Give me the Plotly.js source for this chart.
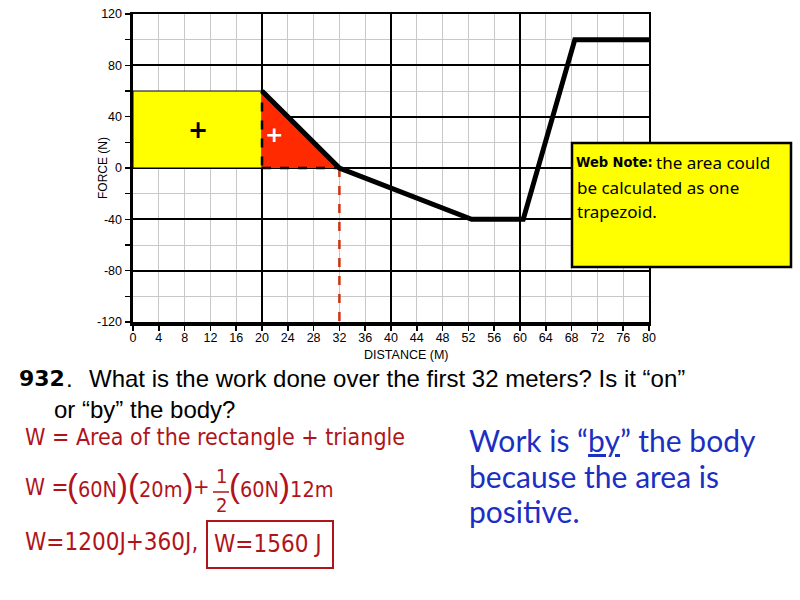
<!DOCTYPE html>
<html>
<head>
<meta charset="utf-8">
<script src="https://cdn.plot.ly/plotly-3.0.1.min.js"></script>
<style>html,body{margin:0;padding:0;background:#fff;}#chart{width:800px;height:600px;}</style>
</head>
<body>
<div id="chart"></div>
<script>
// ---- data ----
const distance = [20, 32, 52.5, 60.5, 68.5, 80];
const force = [60, 0, -40, -40, 100, 100];
const rectX = [0, 20, 20, 0, 0];
const rectY = [0, 0, 60, 60, 0];
const triX = [20, 32, 20, 20];
const triY = [0, 0, 60, 0];
const markX = [32, 32];
const markY = [0, -120];
const xTicks = [0,4,8,12,16,20,24,28,32,36,40,44,48,52,56,60,64,68,72,76,80];
const yTicks = [-120,-80,-40,0,40,80,120];

// ---- layout helpers ----
const L = 133, R = 649, TOP = 14, BOT = 322;
const W = R - L, H = BOT - TOP;
function px(x, y) { return {x: (x - L) / W, y: (BOT - y) / H}; }
function T(x, y, text, size, color, family, extra) {
  const p = px(x, y);
  return Object.assign({xref:'paper', yref:'paper', x:p.x, y:p.y, xanchor:'left', yanchor:'middle',
    text:text, showarrow:false, borderpad:0, borderwidth:0,
    font:{size:size, color:color, family:family}}, extra || {});
}
const RED = '#b0141a', BLUE = '#1b2fc2';
const AF = '"Liberation Sans", Arial, sans-serif';
const QF = '"Liberation Sans", Arial, sans-serif';
const RF = '"DejaVu Sans Condensed", "DejaVu Sans", sans-serif';
const BF = 'Lato, "Open Sans", sans-serif';
const NF = '"Noto Sans", "DejaVu Sans", sans-serif';
const P = s => '<span style="font-family:Liberation Sans;font-size:33px">' + s + '</span>';

const traces = [
  {x: rectX, y: rectY, type:'scatter', mode:'lines', fill:'toself', fillcolor:'#ffff00',
   line:{color:'#000', width:1}, hoverinfo:'skip'},
  {x: triX, y: triY, type:'scatter', mode:'lines', fill:'toself', fillcolor:'#ff2a00',
   line:{color:'#000', width:2.5, dash:'dash'}, hoverinfo:'skip'},
  {x: markX, y: markY, type:'scatter', mode:'lines',
   line:{color:'#cc3311', width:2.5, dash:'dash'}, hoverinfo:'skip'},
  {x: distance, y: force, type:'scatter', mode:'lines',
   line:{color:'#000', width:5}, hoverinfo:'skip'},
  {x: [], y: [], xaxis:'x2', yaxis:'y2', type:'scatter', mode:'lines', hoverinfo:'skip'}
];

const tickFont = {family:AF, size:12.5, color:'#000'};

const annotations = [
  // axis titles
  Object.assign(T(103, 168, 'FORCE (N)', 12, '#000', AF), {xanchor:'center', textangle:-90}),
  Object.assign(T(406, 355, 'DISTANCE (M)', 12.5, '#000', AF), {xanchor:'center'}),
  // plus signs inside areas
  {x:10, y:30, xref:'x', yref:'y', text:'<b>+</b>', showarrow:false, font:{size:24, color:'#000', family:'DejaVu Sans'}},
  {x:21.8, y:26, xref:'x', yref:'y', text:'<b>+</b>', showarrow:false, font:{size:22, color:'#fff', family:'DejaVu Sans'}},
  // web note
  T(576, 162, '<b>Web Note:</b>', 14.5, '#000', RF),
  T(656, 162, 'the area could', 17, '#000', NF),
  T(577, 187, 'be calculated as one', 17, '#000', NF),
  T(577, 211, 'trapezoid.', 17, '#000', NF),
  // question
  T(19, 378, '<b>932</b>', 22, '#000', '"DejaVu Sans", sans-serif'),
  T(66, 378, '.', 24, '#000', QF),
  T(89, 378, 'What is the work done over the first 32 meters? Is it “on”', 24, '#000', QF),
  T(54, 410, 'or “by” the body?', 24, '#000', QF),
  // red solution
  T(25, 437, 'W = Area of the rectangle + triangle', 23, RED, RF),
  T(25, 487, 'W =', 22.5, RED, RF),
  T(67, 485, P('(') + '60N' + P(')(') + '20m' + P(')'), 21.5, RED, RF),
  T(193, 487, '+', 22, RED, RF),
  Object.assign(T(221, 476, '1', 20, RED, RF), {xanchor:'center'}),
  Object.assign(T(221, 505, '2', 20, RED, RF), {xanchor:'center'}),
  T(229, 485, P('(') + '60N' + P(')') + '12m', 21.5, RED, RF),
  T(25, 542, 'W=1200J+360J,', 24, RED, RF),
  T(214, 544, 'W=1560 J', 24, RED, RF)
].concat([
  // blue conclusion
  T(469, 440, 'Work is “<u>by</u>” the body', 30, BLUE, BF),
  T(469, 476, 'because the area is', 30, BLUE, BF),
  T(469, 511, 'positive.', 30, BLUE, BF)
]);

const pn1 = px(572, 143), pn2 = px(791, 267);
const fb1 = px(213, 492), fb2 = px(229, 492);
const bx1 = px(207, 521), bx2 = px(333, 568);
const shapes = [
  {type:'rect', xref:'paper', yref:'paper', x0:pn1.x, x1:pn2.x, y0:pn1.y, y1:pn2.y,
   fillcolor:'#ffff00', line:{color:'#000', width:2.5}, layer:'above'},
  {type:'line', xref:'paper', yref:'paper', x0:fb1.x, x1:fb2.x, y0:fb1.y, y1:fb2.y,
   line:{color:RED, width:1.5}},
  {type:'rect', xref:'paper', yref:'paper', x0:bx1.x, x1:bx2.x, y0:bx1.y, y1:bx2.y,
   line:{color:RED, width:2}}
];

const layout = {
  width:800, height:600,
  margin:{l:L, r:800-R, t:TOP, b:600-BOT, pad:0},
  paper_bgcolor:'#fff', plot_bgcolor:'#fff',
  showlegend:false,
  xaxis:{range:[0,80], tickvals:xTicks, ticktext:xTicks.map(String), showgrid:true, gridcolor:'#c8c8c8', gridwidth:1,
    zeroline:false, showline:true, linecolor:'#000', linewidth:3.5, ticks:'outside', ticklen:5, tickwidth:1.5,
    tickcolor:'#000', tickfont:tickFont, ticklabelstandoff:-4, fixedrange:true},
  yaxis:{range:[-120,120], tickvals:yTicks, ticktext:yTicks.map(String), showgrid:true, gridcolor:'#c8c8c8', gridwidth:1,
    zeroline:false, showline:true, linecolor:'#000', linewidth:3.5, ticks:'outside', ticklen:5, tickwidth:1.5,
    tickcolor:'#000', tickfont:tickFont, fixedrange:true,
    minor:{dtick:20, tick0:0, showgrid:true, gridcolor:'#c8c8c8', gridwidth:1, ticks:'outside', ticklen:5, tickcolor:'#000', tickwidth:1.5}},
  xaxis2:{range:[0,80], overlaying:'x', side:'top', anchor:'y2', dtick:20, tick0:0, showgrid:true, gridcolor:'#000', gridwidth:1.8,
    showticklabels:false, ticks:'', zeroline:false, showline:true, linecolor:'#000', linewidth:1.8, fixedrange:true},
  yaxis2:{range:[-120,120], overlaying:'y', side:'right', anchor:'x2', dtick:40, tick0:0, showgrid:true, gridcolor:'#000', gridwidth:1.8,
    showticklabels:false, ticks:'', zeroline:false, showline:true, linecolor:'#000', linewidth:1.8, fixedrange:true},
  annotations:annotations,
  shapes:shapes
};

Plotly.newPlot('chart', traces, layout, {displayModeBar:false, staticPlot:true});
</script>
</body>
</html>
